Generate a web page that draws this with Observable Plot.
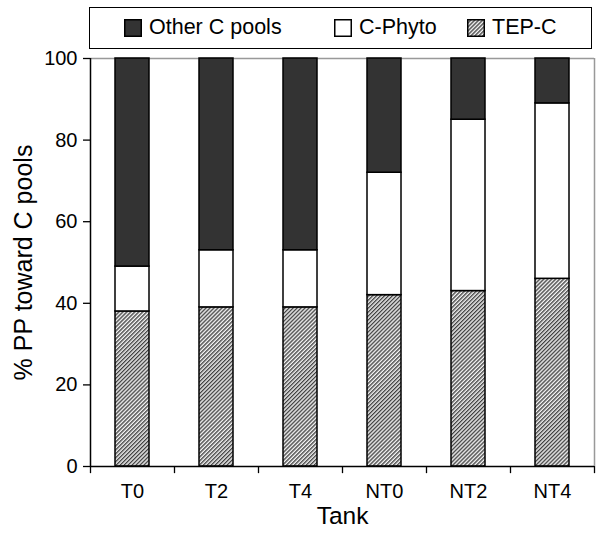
<!DOCTYPE html>
<html>
<head>
<meta charset="utf-8">
<script src="https://cdn.jsdelivr.net/npm/d3@7"></script>
<script src="https://cdn.jsdelivr.net/npm/@observablehq/plot@0.6"></script>
<style>
  html, body { margin: 0; padding: 0; background: #fff; }
  #wrap { position: relative; width: 599px; height: 534px; font-family: "Liberation Sans", Arial, Helvetica, sans-serif; color: #000; }
  #legend { position: absolute; z-index: 2; left: 89px; top: 7px; width: 503px; height: 42px; box-sizing: border-box; border: 1.5px solid #000; background: #fff; }
  .item { position: absolute; top: 0; height: 39px; display: flex; align-items: center; font-size: 21.5px; }
  .item svg { margin-right: 7px; }
  #chart { position: absolute; z-index: 1; left: 0; top: 30px; }
</style>
</head>
<body>
<div id="wrap">
  <div id="legend"></div>
  <div id="chart"></div>
</div>
<script>
const tanks = ["T0", "T2", "T4", "NT0", "NT2", "NT4"];
const tepC = [38, 39, 39, 42, 43, 46];
const cPhyto = [11, 14, 14, 30, 42, 43];
const otherC = [51, 47, 47, 28, 15, 11];
const pools = ["TEP-C", "C-Phyto", "Other C pools"];
const legendOrder = ["Other C pools", "C-Phyto", "TEP-C"];
const fills = ["url(#hatch)", "#ffffff", "#333333"];
const yTicks = [0, 20, 40, 60, 80, 100];

const data = tanks.flatMap((t, i) => [
  {tank: t, pool: pools[0], v: tepC[i]},
  {tank: t, pool: pools[1], v: cPhyto[i]},
  {tank: t, pool: pools[2], v: otherC[i]}
]);

const patternDef = `<pattern id="PID" patternUnits="userSpaceOnUse" width="2.8" height="2.8" patternTransform="rotate(45)">
  <rect width="2.8" height="2.8" fill="#f4f4f4"/>
  <line x1="0.7" y1="0" x2="0.7" y2="2.8" stroke="#2a2a2a" stroke-width="1.2"/>
</pattern>`;

// Legend
const legend = document.getElementById("legend");
const legendX = [34, 244, 377];
legendOrder.forEach((p, i) => {
  const div = document.createElement("div");
  div.className = "item";
  div.style.left = legendX[i] + "px";
  const f = fills[pools.indexOf(p)];
  const fill = f.startsWith("url") ? "url(#hatchL)" : f;
  div.innerHTML = `<svg width="18" height="18" viewBox="0 0 18 18"><defs>${patternDef.replace("PID", "hatchL")}</defs><rect x="0.75" y="0.75" width="16.5" height="16.5" fill="${fill}" stroke="#000" stroke-width="1.5"/></svg><span>${p}</span>`;
  legend.appendChild(div);
});

const chart = Plot.plot({
  width: 599,
  height: 504,
  marginLeft: 90,
  marginRight: 5,
  marginTop: 28,
  marginBottom: 68,
  style: {fontFamily: "Liberation Sans, Arial, Helvetica, sans-serif", fontSize: "20px", color: "#000", background: "transparent"},
  x: {domain: tanks, paddingInner: 0.6, paddingOuter: 0.3},
  y: {domain: [0, 100]},
  color: {type: "ordinal", domain: pools, range: fills},
  marks: [
    // gray frame top/right
    Plot.ruleY([100], {stroke: "#999", strokeWidth: 1.5}),
    Plot.ruleX([tanks[tanks.length - 1]], {dx: 42, y1: 0, y2: 100, stroke: "#999", strokeWidth: 1.5}),
    Plot.barY(data, {x: "tank", y: "v", fill: "pool", order: pools, stroke: "#000", strokeWidth: 1.5}),
    // axes
    Plot.axisY({ticks: yTicks, tickSize: 7, tickPadding: 6, fontSize: 20, label: null, stroke: "#000", strokeWidth: 1.3}),
    Plot.ruleX([tanks[0]], {dx: -42, y1: 0, y2: 100, stroke: "#000", strokeWidth: 1.5}),
    Plot.ruleY([0], {stroke: "#000", strokeWidth: 1.5}),
    Plot.ruleX(tanks, {dx: -42, y1: 0, y2: -1.75, stroke: "#000", strokeWidth: 1.3}),
    Plot.ruleX([tanks[tanks.length - 1]], {dx: 42, y1: 0, y2: -1.75, stroke: "#000", strokeWidth: 1.3}),
    Plot.axisX({tickSize: 0, tickPadding: 17, fontSize: 20, label: null}),
    Plot.text(["% PP toward C pools"], {frameAnchor: "left", dx: -67, rotate: -90, textAnchor: "middle", lineAnchor: "middle", fontSize: 25, fill: "#000"}),
    Plot.text(["Tank"], {frameAnchor: "bottom", dy: 50, textAnchor: "middle", lineAnchor: "middle", fontSize: 24.5, fill: "#000"})
  ]
});

d3.select(chart).insert("defs", ":first-child").html(patternDef.replace("PID", "hatch"));
document.getElementById("chart").appendChild(chart);
</script>
</body>
</html>
